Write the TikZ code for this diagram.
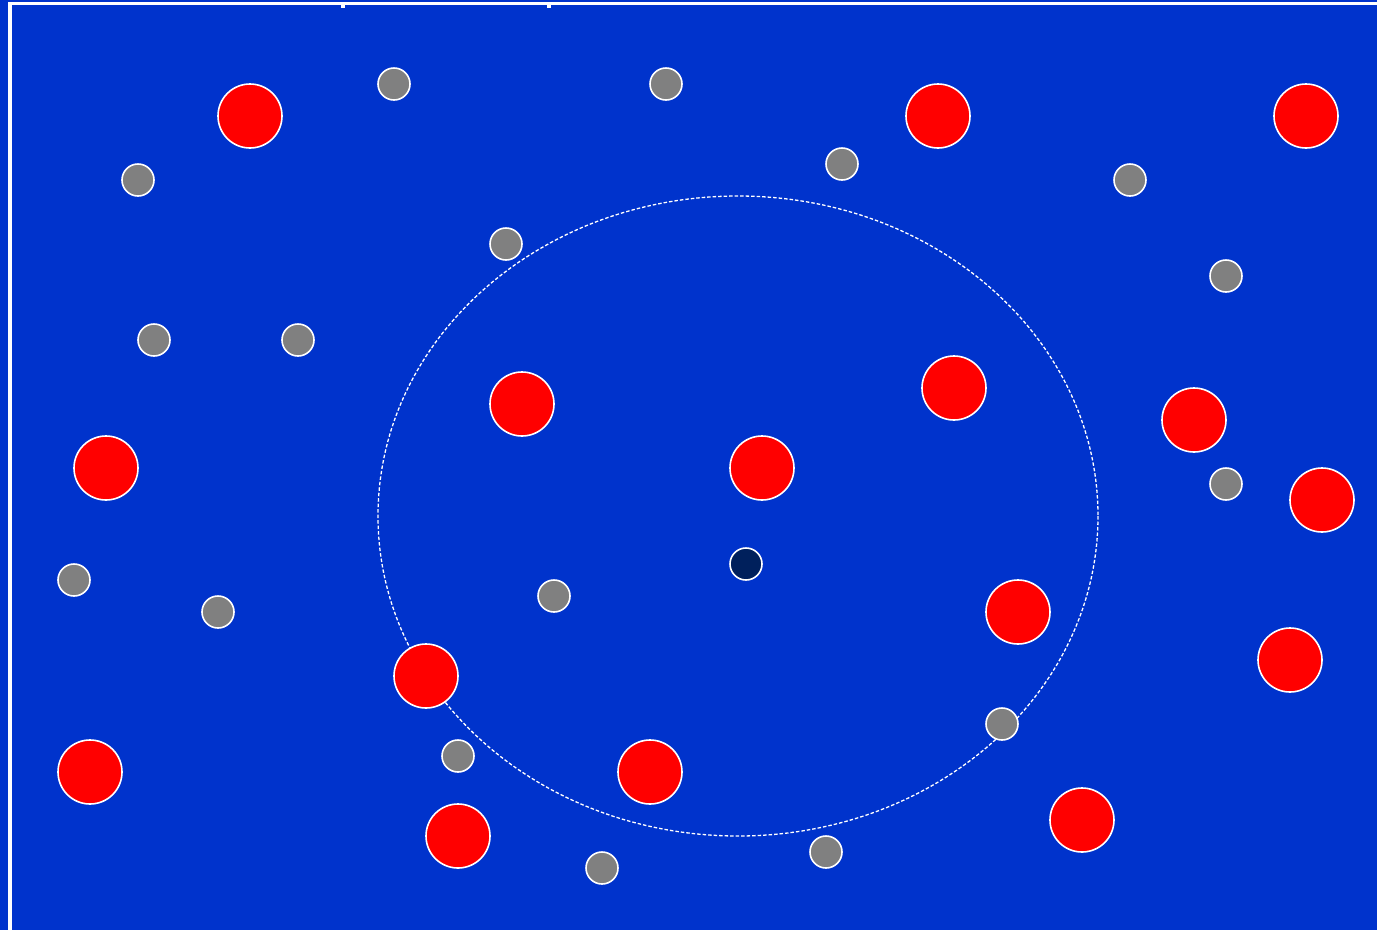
\documentclass[tikz,border=0pt]{standalone}
\definecolor{pitch}{HTML}{0033CC}
\definecolor{redp}{HTML}{FF0000}
\definecolor{grayp}{HTML}{808080}
\definecolor{darkp}{HTML}{00205C}
\begin{document}
\begin{tikzpicture}[x=1pt,y=-1pt,
  red player/.style={circle,fill=redp,draw=white,line width=1.6pt,minimum size=64pt,inner sep=0pt},
  gray player/.style={circle,fill=grayp,draw=white,line width=1.6pt,minimum size=32pt,inner sep=0pt},
  dark player/.style={circle,fill=darkp,draw=white,line width=1.6pt,minimum size=32pt,inner sep=0pt},
  zone/.style={draw=white,line width=1.3pt,dash pattern=on 3.5pt off 2pt}]
\fill[pitch] (0,0) rectangle (1377,930);
\useasboundingbox (0,0) rectangle (1377,930);
% pitch lines
\draw[white,line width=3.5pt] (10,930) -- (10,3.5) -- (1377,3.5);
\draw[white,line width=4.5pt] (343,3.5) -- (343,7.5);
\draw[white,line width=4.5pt] (549,3.5) -- (549,7.5);
% zone
\draw[zone] (738,516) ellipse [x radius=360, y radius=320];
% red players
\foreach \n/\x/\y in {r1/250/116, r2/938/116, r3/1306/116, r4/522/404, r5/954/388, r6/1194/420, r7/106/468, r8/762/468, r9/1322/500, r10/1018/612, r11/1290/660, r12/426/676, r13/90/772, r14/650/772, r15/458/836, r16/1082/820}
  \node[red player] (\n) at (\x,\y) {};
% gray players
\foreach \n/\x/\y in {g1/394/84, g2/666/84, g3/138/180, g4/842/164, g5/1130/180, g6/506/244, g7/1226/276, g8/154/340, g9/298/340, g10/1226/484, g11/74/580, g12/218/612, g13/554/596, g14/1002/724, g15/458/756, g16/826/852, g17/602/868}
  \node[gray player] (\n) at (\x,\y) {};
\node[dark player] (ball) at (746,564) {};
\end{tikzpicture}
\end{document}
